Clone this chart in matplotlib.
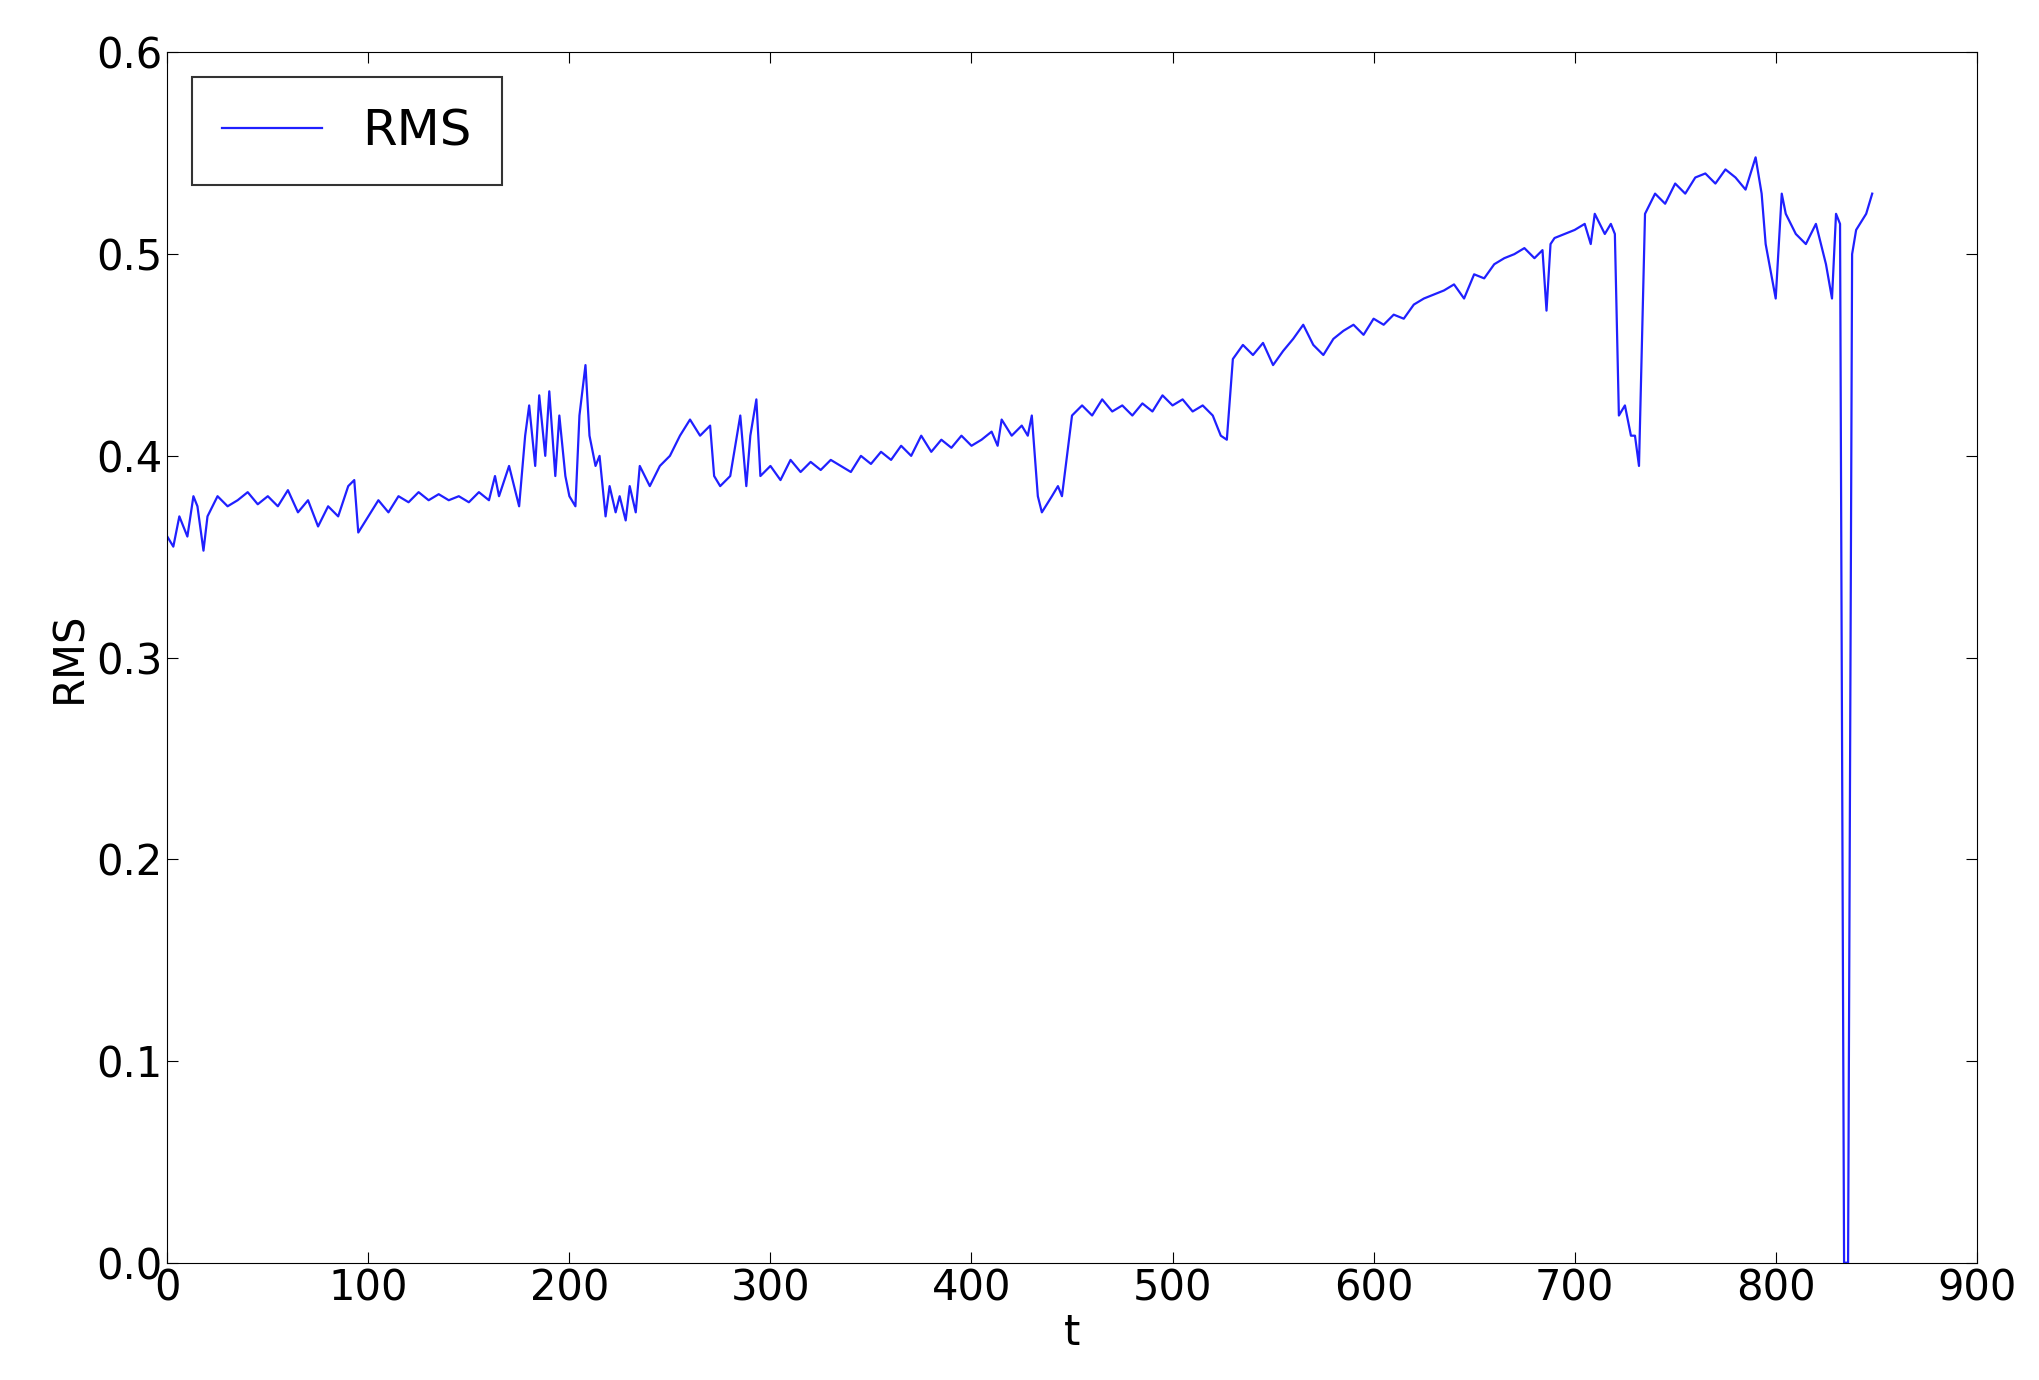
import matplotlib
matplotlib.use("Agg")
import matplotlib.pyplot as plt

t = [0,3,6,10,13,15,18,20,25,30,
     35,40,45,50,55,60,65,70,75,80,
     85,90,93,95,100,105,110,115,120,125,
     130,135,140,145,150,155,160,163,165,170,
     175,178,180,183,185,188,190,193,195,198,
     200,203,205,208,210,213,215,218,220,223,
     225,228,230,233,235,240,245,250,255,260,
     265,270,272,275,280,285,288,290,293,295,
     300,305,310,315,320,325,330,335,340,345,
     350,355,360,365,370,375,380,385,390,395,
     400,405,410,413,415,420,425,428,430,433,
     435,440,443,445,450,455,460,465,470,475,
     480,485,490,495,500,505,510,515,520,524,
     527,530,535,540,545,550,555,560,565,570,
     575,580,585,590,595,600,605,610,615,620,
     625,630,635,640,645,650,655,660,665,670,
     675,680,684,686,688,690,695,700,705,708,
     710,715,718,720,722,725,728,730,732,735,
     740,745,750,755,760,765,770,775,780,785,
     790,793,795,800,803,805,810,815,820,825,
     828,830,832,833,834,835,836,838,840,845,
     848]
rms = [0.36,0.355,0.37,0.36,0.38,0.375,0.353,0.37,0.38,0.375,
       0.378,0.382,0.376,0.38,0.375,0.383,0.372,0.378,0.365,0.375,
       0.37,0.385,0.388,0.362,0.37,0.378,0.372,0.38,0.377,0.382,
       0.378,0.381,0.378,0.38,0.377,0.382,0.378,0.39,0.38,0.395,
       0.375,0.41,0.425,0.395,0.43,0.40,0.432,0.39,0.42,0.39,
       0.38,0.375,0.42,0.445,0.41,0.395,0.40,0.37,0.385,0.372,
       0.38,0.368,0.385,0.372,0.395,0.385,0.395,0.40,0.41,0.418,
       0.41,0.415,0.39,0.385,0.39,0.42,0.385,0.41,0.428,0.39,
       0.395,0.388,0.398,0.392,0.397,0.393,0.398,0.395,0.392,0.40,
       0.396,0.402,0.398,0.405,0.40,0.41,0.402,0.408,0.404,0.41,
       0.405,0.408,0.412,0.405,0.418,0.41,0.415,0.41,0.42,0.38,
       0.372,0.38,0.385,0.38,0.42,0.425,0.42,0.428,0.422,0.425,
       0.42,0.426,0.422,0.43,0.425,0.428,0.422,0.425,0.42,0.41,
       0.408,0.448,0.455,0.45,0.456,0.445,0.452,0.458,0.465,0.455,
       0.45,0.458,0.462,0.465,0.46,0.468,0.465,0.47,0.468,0.475,
       0.478,0.48,0.482,0.485,0.478,0.49,0.488,0.495,0.498,0.50,
       0.503,0.498,0.502,0.472,0.505,0.508,0.51,0.512,0.515,0.505,
       0.52,0.51,0.515,0.51,0.42,0.425,0.41,0.41,0.395,0.52,
       0.53,0.525,0.535,0.53,0.538,0.54,0.535,0.542,0.538,0.532,
       0.548,0.53,0.505,0.478,0.53,0.52,0.51,0.505,0.515,0.495,
       0.478,0.52,0.515,0.26,0.0,0.0,0.0,0.5,0.512,0.52,
       0.53]

fig = plt.figure(figsize=(20.4, 13.8), dpi=100)
ax = fig.add_axes([0.082, 0.085, 0.887, 0.877])
ax.plot(t, rms, color="#2020ff", lw=1.6, label="RMS")
ax.set_xlim(0, 900)
ax.set_ylim(0, 0.6)
ax.set_xticks(range(0, 901, 100))
ax.set_yticks([0.0, 0.1, 0.2, 0.3, 0.4, 0.5, 0.6])
ax.set_yticklabels(["0.0", "0.1", "0.2", "0.3", "0.4", "0.5", "0.6"])
ax.tick_params(labelsize=30, direction="in", length=8, top=True, right=True)
ax.set_xlabel("t", fontsize=30, labelpad=2)
ax.set_ylabel("RMS", fontsize=30)
leg = ax.legend(loc="upper left", fontsize=36, fancybox=False, edgecolor="black",
                handlelength=2, borderpad=0.6)
leg.get_frame().set_linewidth(1.5)
fig.savefig("out.png")
